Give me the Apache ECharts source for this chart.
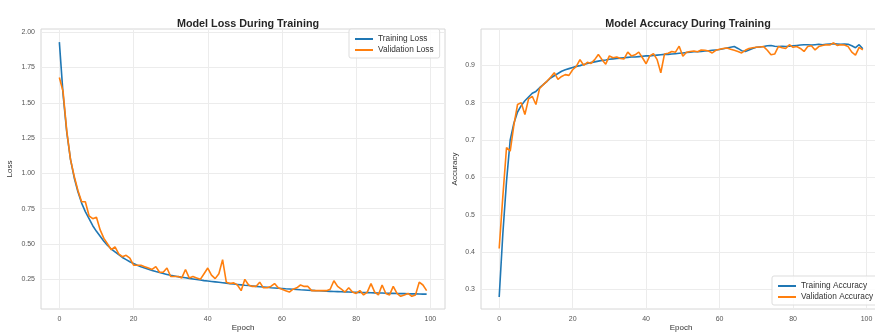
<!DOCTYPE html>
<html>
<head>
<meta charset="utf-8">
<script src="https://cdn.jsdelivr.net/npm/echarts@6/dist/echarts.min.js"></script>
<style>
  html, body { margin: 0; padding: 0; background: #ffffff; overflow: hidden; }
  #chart { width: 875px; height: 332px; }
</style>
</head>
<body>
<div id="chart"></div>
<script>
// Epoch index 0..99
const epochs = Array.from({ length: 100 }, (_, i) => i);

const trainLoss = [
  1.93, 1.56, 1.29, 1.10, 0.97, 0.87, 0.79, 0.73, 0.68, 0.63,
  0.59, 0.555, 0.52, 0.49, 0.465, 0.445, 0.425, 0.405, 0.39, 0.375,
  0.362, 0.35, 0.339, 0.33, 0.321, 0.313, 0.305, 0.298, 0.291, 0.285,
  0.279, 0.274, 0.269, 0.265, 0.261, 0.257, 0.253, 0.249, 0.245, 0.241,
  0.238, 0.235, 0.232, 0.229, 0.226, 0.223, 0.22, 0.217, 0.214, 0.211,
  0.208, 0.206, 0.203, 0.2, 0.198, 0.196, 0.194, 0.191, 0.189, 0.187,
  0.185, 0.183, 0.182, 0.18, 0.178, 0.176, 0.175, 0.173, 0.172, 0.17,
  0.169, 0.168, 0.166, 0.165, 0.164, 0.163, 0.162, 0.161, 0.16, 0.159,
  0.158, 0.157, 0.157, 0.156, 0.155, 0.154, 0.153, 0.153, 0.152, 0.151,
  0.151, 0.15, 0.149, 0.149, 0.148, 0.147, 0.147, 0.146, 0.145, 0.145
];

const valLoss = [
  1.68, 1.58, 1.30, 1.10, 0.98, 0.88, 0.80, 0.80, 0.70, 0.68,
  0.69, 0.60, 0.54, 0.50, 0.46, 0.48, 0.43, 0.41, 0.42, 0.40,
  0.35, 0.35, 0.35, 0.34, 0.33, 0.32, 0.34, 0.30, 0.30, 0.33,
  0.27, 0.27, 0.27, 0.26, 0.32, 0.26, 0.27, 0.26, 0.25, 0.29,
  0.33, 0.28, 0.255, 0.29, 0.39, 0.23, 0.22, 0.225, 0.21, 0.17,
  0.25, 0.21, 0.20, 0.20, 0.23, 0.19, 0.19, 0.20, 0.22, 0.19,
  0.18, 0.17, 0.16, 0.18, 0.19, 0.21, 0.20, 0.20, 0.17, 0.17,
  0.17, 0.17, 0.17, 0.18, 0.24, 0.20, 0.18, 0.16, 0.19, 0.16,
  0.15, 0.17, 0.14, 0.16, 0.22, 0.16, 0.14, 0.21, 0.15, 0.14,
  0.20, 0.15, 0.13, 0.14, 0.15, 0.13, 0.14, 0.23, 0.21, 0.17
];

const trainAcc = [
  0.28, 0.45, 0.59, 0.70, 0.745, 0.775, 0.792, 0.805, 0.815, 0.825,
  0.83, 0.84, 0.848, 0.857, 0.866, 0.872, 0.878, 0.884, 0.888, 0.891,
  0.894, 0.897, 0.899, 0.902, 0.905, 0.907, 0.909, 0.911, 0.913, 0.914,
  0.916, 0.917, 0.918, 0.919, 0.920, 0.921, 0.922, 0.922, 0.923, 0.924,
  0.925, 0.925, 0.926, 0.927, 0.928, 0.929, 0.929, 0.930, 0.931, 0.932,
  0.933, 0.934, 0.935, 0.936, 0.936, 0.937, 0.938, 0.939, 0.940, 0.941,
  0.942, 0.944, 0.946, 0.948, 0.950, 0.945, 0.939, 0.937, 0.941, 0.945,
  0.948, 0.949, 0.950, 0.952, 0.953, 0.951, 0.950, 0.951, 0.950, 0.951,
  0.952, 0.953, 0.954, 0.955, 0.955, 0.954, 0.955, 0.956, 0.955, 0.956,
  0.957, 0.958, 0.957, 0.956, 0.957, 0.956, 0.952, 0.947, 0.955, 0.944
];

const valAcc = [
  0.41, 0.55, 0.68, 0.67, 0.74, 0.795, 0.80, 0.768, 0.81, 0.817,
  0.795, 0.838, 0.848, 0.857, 0.868, 0.880, 0.862, 0.870, 0.875, 0.873,
  0.888, 0.897, 0.915, 0.900, 0.908, 0.905, 0.915, 0.929, 0.915, 0.903,
  0.925, 0.920, 0.922, 0.918, 0.917, 0.935, 0.925, 0.928, 0.935, 0.920,
  0.904, 0.925, 0.931, 0.915, 0.880, 0.930, 0.932, 0.937, 0.935, 0.951,
  0.924, 0.935, 0.937, 0.938, 0.936, 0.941, 0.940, 0.938, 0.933, 0.940,
  0.943, 0.945, 0.946, 0.943, 0.940, 0.937, 0.933, 0.940, 0.945, 0.947,
  0.948, 0.949, 0.950, 0.940, 0.928, 0.930, 0.950, 0.947, 0.945, 0.955,
  0.948, 0.950, 0.945, 0.937, 0.950, 0.952, 0.941, 0.950, 0.953, 0.955,
  0.954, 0.960, 0.953, 0.955, 0.954, 0.950, 0.935, 0.927, 0.948, 0.941
];

const epochTicks = [0, 20, 40, 60, 80, 100];
const lossTicks = [0.25, 0.5, 0.75, 1.0, 1.25, 1.5, 1.75, 2.0];
const accTicks = [0.3, 0.4, 0.5, 0.6, 0.7, 0.8, 0.9];

const BLUE = '#1f77b4';
const ORANGE = '#ff7f0e';
const FONT = '"Liberation Sans", Arial, sans-serif';

const pair = (xs, ys) => xs.map((x, i) => [x, ys[i]]);

function xAxisFor(gridIndex) {
  return {
    type: 'value', gridIndex,
    min: -4.95, max: 103.95,
    name: 'Epoch', nameLocation: 'middle', nameGap: 15, nameMoveOverlap: false,
    nameTextStyle: { fontFamily: FONT, fontSize: 8, color: '#333' },
    axisLine: { show: false }, axisTick: { show: false, customValues: epochTicks },
    axisLabel: { customValues: epochTicks, fontFamily: FONT, fontSize: 7, color: '#555', margin: 7 },
    splitLine: { show: true, lineStyle: { color: '#ececec', width: 1 } }
  };
}

function yAxisFor(gridIndex, min, max, ticks, name, gap, fmt) {
  return {
    type: 'value', gridIndex, min, max,
    name, nameLocation: 'middle', nameGap: gap, nameMoveOverlap: false,
    nameTextStyle: { fontFamily: FONT, fontSize: 8, color: '#333' },
    axisLine: { show: false }, axisTick: { show: false, customValues: ticks },
    axisLabel: { customValues: ticks, fontFamily: FONT, fontSize: 7, color: '#555', margin: 6, formatter: fmt },
    splitLine: { show: true, lineStyle: { color: '#ececec', width: 1 } }
  };
}

function lineSeries(name, xi, yi, data, color) {
  return {
    type: 'line', name, xAxisIndex: xi, yAxisIndex: yi,
    data, showSymbol: false, symbol: 'none', smooth: false,
    lineStyle: { color, width: 1.6 }, itemStyle: { color },
    animation: false
  };
}

const legendStyle = {
  orient: 'vertical', icon: 'rect', itemWidth: 18, itemHeight: 2, itemGap: 3,
  padding: [6, 6, 4, 6],
  backgroundColor: 'rgba(255,255,255,0.85)', borderColor: '#dddddd', borderWidth: 1, borderRadius: 2,
  textStyle: { fontFamily: FONT, fontSize: 8.3, color: '#333' }
};

const gridBase = { height: 280, top: 29, show: true, borderColor: '#d6d6d6', borderWidth: 1,
  backgroundColor: '#fff', outerBoundsMode: 'none', containLabel: false };

const chart = echarts.init(document.getElementById('chart'), null, { renderer: 'canvas' });
chart.setOption({
  backgroundColor: '#ffffff',
  animation: false,
  title: [
    { text: 'Model Loss During Training', left: 243, top: 14, textAlign: 'center',
      textStyle: { fontFamily: FONT, fontSize: 10.8, fontWeight: 'bold', color: '#262626' } },
    { text: 'Model Accuracy During Training', left: 683, top: 14, textAlign: 'center',
      textStyle: { fontFamily: FONT, fontSize: 10.8, fontWeight: 'bold', color: '#262626' } }
  ],
  legend: [
    Object.assign({ data: ['Training Loss', 'Validation Loss'], left: 349, top: 29 }, legendStyle),
    Object.assign({ data: ['Training Accuracy', 'Validation Accuracy'], left: 772, top: 276 }, legendStyle)
  ],
  grid: [
    Object.assign({ left: 41, width: 404 }, gridBase),
    Object.assign({ left: 481, width: 400 }, gridBase)
  ],
  xAxis: [xAxisFor(0), xAxisFor(1)],
  yAxis: [
    yAxisFor(0, 0.04, 2.023, lossTicks, 'Loss', 27, v => v.toFixed(2)),
    yAxisFor(1, 0.248, 0.997, accTicks, 'Accuracy', 22, v => v.toFixed(1))
  ],
  series: [
    lineSeries('Training Loss', 0, 0, pair(epochs, trainLoss), BLUE),
    lineSeries('Validation Loss', 0, 0, pair(epochs, valLoss), ORANGE),
    lineSeries('Training Accuracy', 1, 1, pair(epochs, trainAcc), BLUE),
    lineSeries('Validation Accuracy', 1, 1, pair(epochs, valAcc), ORANGE)
  ]
});
</script>
</body>
</html>
